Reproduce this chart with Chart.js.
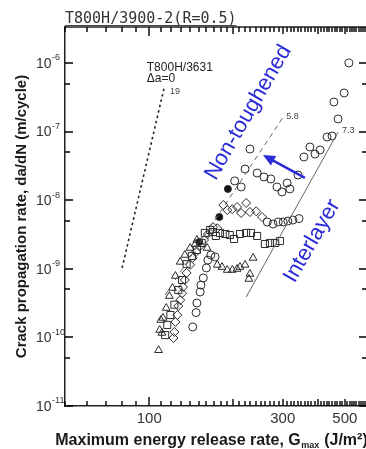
<!DOCTYPE html>
<html><head><meta charset="utf-8">
<script src="https://cdn.jsdelivr.net/npm/chart.js@4.4.1/dist/chart.umd.min.js"></script>
<style>
html,body{margin:0;padding:0;background:#fff;overflow:hidden;}
#wrap{position:relative;width:380px;height:449px;}
</style></head><body>
<div id="wrap"><canvas id="c"></canvas></div>
<script>
// ---------- data ----------
// upper curve, open circles (G in J/m^2, da/dN in m/cycle)
const circlesUpperX = [202, 213, 220, 229, 243, 257, 272, 286, 298, 311, 318, 340, 357, 375, 391, 408, 432, 450, 473, 457, 497, 517];
const circlesUpperY = [1.91e-8, 1.56e-8, 2.85e-8, 5.57e-8, 2.49e-8, 2.18e-8, 2.04e-8, 1.56e-8, 1.32e-8, 1.78e-8, 1.46e-8, 2.33e-8, 4.27e-8, 5.97e-8, 4.71e-8, 5.40e-8, 8.34e-8, 8.63e-8, 1.53e-7, 2.70e-7, 3.66e-7, 1.0e-6];
// second curve tail, open circles
const circlesMidX = [264, 277, 289, 301, 313, 326, 343];
const circlesMidY = [4.81e-9, 4.5e-9, 4.81e-9, 4.81e-9, 4.97e-9, 5.14e-9, 5.4e-9];
// lower steep column, open circles
const circlesLowX = [143, 147, 148, 152, 153, 156, 160, 162, 166, 172];
const circlesLowY = [1.42e-10, 2.3e-10, 3.17e-10, 4.59e-10, 5.8e-10, 7.35e-10, 1.03e-9, 1.34e-9, 1.59e-9, 1.49e-9];
// filled circles
const filledX = [151, 178, 191];
const filledY = [2.46e-9, 5.69e-9, 1.46e-8];
// diamonds
const diamondX = [122, 123, 124, 126, 127, 129, 131, 132, 134, 136, 140, 143, 147, 152, 157, 162, 169, 175, 184, 190, 198, 206, 213, 222, 229, 241, 253];
const diamondY = [9.8e-11, 1.2e-10, 1.68e-10, 2.12e-10, 2.87e-10, 3.5e-10, 4.4e-10, 5.43e-10, 6.87e-10, 8.7e-10, 1.14e-9, 1.44e-9, 1.76e-9, 2.15e-9, 2.63e-9, 3.22e-9, 4.06e-9, 3.9e-9, 8.51e-9, 7.19e-9, 7.4e-9, 7.96e-9, 6.5e-9, 9.11e-9, 6.73e-9, 6.9e-9, 5.69e-9];
// squares
const squareX = [114, 116, 119, 123, 127, 131, 136, 142, 148, 154, 158, 165, 169, 173, 179, 187, 194, 201, 211, 222, 231, 243, 259, 270, 282, 293];
const squareY = [1.08e-10, 1.52e-10, 2.12e-10, 3.0e-10, 4.9e-10, 6.87e-10, 1.17e-9, 1.54e-9, 1.88e-9, 2.38e-9, 3.33e-9, 3.68e-9, 3.44e-9, 3.01e-9, 3.33e-9, 3.22e-9, 3.11e-9, 2.72e-9, 3.22e-9, 3.33e-9, 3.33e-9, 3.01e-9, 2.3e-9, 2.38e-9, 2.38e-9, 2.54e-9];
// triangles
const triangleX = [108, 109, 110, 112, 111, 115, 118, 121, 124, 129, 134, 140, 146, 148, 161, 175, 182, 190, 198, 206, 211, 220, 235, 229, 227];
const triangleY = [6.5e-11, 1.28e-10, 1.79e-10, 1.92e-10, 1.16e-10, 2.68e-10, 4.0e-10, 5.25e-10, 7.85e-10, 1.26e-9, 1.59e-9, 2.01e-9, 2.3e-9, 2.63e-9, 2.01e-9, 1.14e-9, 1.06e-9, 9.6e-10, 9.6e-10, 9.93e-10, 1.06e-9, 1.14e-9, 1.44e-9, 8.4e-10, 7.1e-10];
// reference slope lines (end points) and their slope labels
const line19X = [80, 113];   const line19Y = [1.03e-9, 4.33e-7];
const line58X = [114, 301];  const line58Y = [4.15e-10, 1.63e-7];
const line73X = [222, 473];  const line73Y = [3.88e-10, 9.86e-8];
const slopeLabels = ['19', '5.8', '7.3'];
// axis tick labels
const xTickLabels = [100, 300, 500];
const yDecades = [-11, -10, -9, -8, -7, -6];

// ---------- helpers ----------
const pts = (xs, ys) => xs.map((v, i) => ({x: v, y: ys[i]}));
const FONT = "'Liberation Sans', Arial, sans-serif";
const BLUE = '#2b2bd8';
const marker = (label, xs, ys, style, r, fill) => ({
  label, data: pts(xs, ys), pointStyle: style, pointRadius: r, pointHoverRadius: r,
  borderColor: '#2a2a2a', backgroundColor: fill || 'rgba(0,0,0,0)', pointBorderWidth: 1, showLine: false
});
const refLine = (xs, ys, color, width, dash) => ({
  label: 'ref', data: pts(xs, ys), showLine: true, pointRadius: 0, borderColor: color,
  borderWidth: width, borderDash: dash, fill: false
});

// minor tick positions on the x axis (every 10 J/m^2)
const xMinor = [];
for (let v = 50; v <= 600; v += 10) xMinor.push(v);

const annot = {
  id: 'annot',
  afterDraw(chart) {
    const {ctx, chartArea: a, scales: {x, y}} = chart;
    const px = v => x.getPixelForValue(v), py = v => y.getPixelForValue(v);
    ctx.save();
    ctx.setLineDash([]);
    // frame: top and right borders
    ctx.strokeStyle = '#222'; ctx.lineWidth = 1.5;
    ctx.beginPath(); ctx.moveTo(a.left, a.top); ctx.lineTo(a.right, a.top); ctx.lineTo(a.right, a.bottom); ctx.stroke();
    // inward ticks on x axes
    ctx.lineWidth = 1.4; ctx.strokeStyle = '#000';
    ctx.beginPath();
    for (const v of xMinor) {
      const X = Math.round(px(v));
      const len = v === 100 ? 9 : (v % 100 === 0 ? 7 : 5);
      ctx.moveTo(X, a.bottom); ctx.lineTo(X, a.bottom - len);
      ctx.moveTo(X, a.top); ctx.lineTo(X, a.top + len);
    }
    // inward ticks on y axes
    for (const e of yDecades) {
      for (const [m, len] of [[1, 8], [5, 5]]) {
        const v = m * Math.pow(10, e);
        if (v > y.max) continue;
        const Y = Math.round(py(v));
        ctx.moveTo(a.left, Y); ctx.lineTo(a.left + len, Y);
        ctx.moveTo(a.right, Y); ctx.lineTo(a.right - len, Y);
      }
    }
    ctx.stroke();
    // y tick labels 10^n
    ctx.fillStyle = '#333'; ctx.textBaseline = 'middle'; ctx.textAlign = 'left';
    for (const e of yDecades) {
      const Y = py(Math.pow(10, e));
      ctx.font = "14px 'Liberation Sans Narrow', " + FONT;
      ctx.fillText('10', 36, Y + 1);
      const w = ctx.measureText('10').width;
      ctx.font = "9px " + FONT;
      ctx.fillText('-' + (-e), 36 + w + 0.5, Y - 5);
    }
    // title (underlined)
    ctx.font = "15px 'DejaVu Sans Mono', monospace";
    ctx.textBaseline = 'alphabetic'; ctx.fillStyle = '#333';
    const title = 'T800H/3900-2(R=0.5)';
    ctx.fillText(title, a.left, 23);
    const tw = ctx.measureText(title).width;
    ctx.lineWidth = 1; ctx.strokeStyle = '#444';
    ctx.beginPath(); ctx.moveTo(a.left, 25.5); ctx.lineTo(a.left + tw, 25.5); ctx.stroke();
    // x axis title with subscript
    ctx.fillStyle = '#1a1a1a';
    const big = "bold 16px " + FONT, small = "bold 9px " + FONT;
    const p1 = 'Maximum energy release rate, G', p2 = 'max', p3 = ' (J/m\u00B2)';
    ctx.font = big; const w1 = ctx.measureText(p1).width, w3 = ctx.measureText(p3).width;
    ctx.font = small; const w2 = ctx.measureText(p2).width;
    let sx = 211 - (w1 + w2 + w3) / 2; const by = 445;
    ctx.font = big; ctx.fillText(p1, sx, by); sx += w1;
    ctx.font = small; ctx.fillText(p2, sx + 0.5, by + 3); sx += w2 + 1;
    ctx.font = big; ctx.fillText(p3, sx, by);
    // annotation texts
    ctx.fillStyle = '#222'; ctx.font = "12px " + FONT; ctx.textBaseline = 'middle';
    ctx.fillText('T800H/3631', px(98), py(8.6e-7));
    ctx.fillText('\u0394a=0', px(98), py(6.0e-7));
    // slope labels at upper line ends
    ctx.font = "9px " + FONT; ctx.fillStyle = '#444';
    const ends = [[line19X[1], line19Y[1], 6, 4], [line58X[1], line58Y[1], 3, -1], [line73X[1], line73Y[1], 4, -2]];
    ends.forEach((e, i) => ctx.fillText(slopeLabels[i], px(e[0]) + e[2], py(e[1]) + e[3]));
    // blue rotated labels
    ctx.fillStyle = BLUE; ctx.font = "22px " + FONT; ctx.textAlign = 'center';
    for (const [t, gx, gy] of [['Non-toughened', 226, 1.9e-7], ['Interlayer', 382, 2.54e-9]]) {
      ctx.save(); ctx.translate(px(gx), py(gy)); ctx.rotate(-60 * Math.PI / 180);
      ctx.fillText(t, 0, 0); ctx.restore();
    }
    // blue arrow
    const tx = px(360), ty = py(2.11e-8), hx = px(255), hy = py(4.56e-8);
    const ang = Math.atan2(hy - ty, hx - tx);
    ctx.strokeStyle = BLUE; ctx.lineWidth = 2.5;
    ctx.beginPath(); ctx.moveTo(tx, ty); ctx.lineTo(hx - 8 * Math.cos(ang), hy - 8 * Math.sin(ang)); ctx.stroke();
    ctx.beginPath();
    ctx.moveTo(hx, hy);
    ctx.lineTo(hx - 12 * Math.cos(ang) + 5.5 * Math.sin(ang), hy - 12 * Math.sin(ang) - 5.5 * Math.cos(ang));
    ctx.lineTo(hx - 12 * Math.cos(ang) - 5.5 * Math.sin(ang), hy - 12 * Math.sin(ang) + 5.5 * Math.cos(ang));
    ctx.closePath(); ctx.fill();
    ctx.restore();
  }
};

new Chart(document.getElementById('c'), {
  type: 'scatter',
  data: {
    datasets: [
      refLine(line19X, line19Y, '#222', 1.6, [2.5, 3]),
      refLine(line58X, line58Y, '#666', 1, [5, 4]),
      refLine(line73X, line73Y, '#666', 1, []),
      marker('triangles', triangleX, triangleY, 'triangle', 4.5),
      marker('squares', squareX, squareY, 'rect', 5),
      marker('diamonds', diamondX, diamondY, 'rectRot', 4.5),
      marker('circles low', circlesLowX, circlesLowY, 'circle', 4),
      marker('circles mid', circlesMidX, circlesMidY, 'circle', 4),
      marker('circles upper', circlesUpperX, circlesUpperY, 'circle', 4),
      marker('filled', filledX, filledY, 'circle', 3.5, '#111')
    ]
  },
  options: {
    responsive: true, maintainAspectRatio: false, animation: false, devicePixelRatio: 1,
    layout: {padding: {left: 0, right: 13, top: 27, bottom: 0}},
    plugins: {legend: {display: false}, tooltip: {enabled: false}},
    scales: {
      x: {
        type: 'logarithmic', min: 50, max: 600,
        grid: {display: false, drawTicks: false},
        border: {display: true, color: '#222', width: 1.5},
        ticks: {autoSkip: false, maxRotation: 0, padding: 4, color: '#333',
          font: {family: FONT, size: 15},
          callback: v => String(Math.round(v))},
        afterBuildTicks: s => { s.ticks = xTickLabels.map(v => ({value: v})); },
        afterFit: s => { s.height = 43; }
      },
      y: {
        type: 'logarithmic', min: 1e-11, max: Math.pow(10, -5.475),
        grid: {display: false, drawTicks: false},
        border: {display: true, color: '#222', width: 1.5},
        ticks: {display: false},
        afterBuildTicks: s => { s.ticks = yDecades.map(e => ({value: Math.pow(10, e)})); },
        afterFit: s => { s.width = 65; },
        title: {display: true, text: 'Crack propagation rate, da/dN (m/cycle)', color: '#1a1a1a',
          font: {family: FONT, size: 15, weight: 'bold'}, padding: {top: 13, bottom: 0}}
      }
    }
  },
  plugins: [annot]
});
</script>
</body></html>
